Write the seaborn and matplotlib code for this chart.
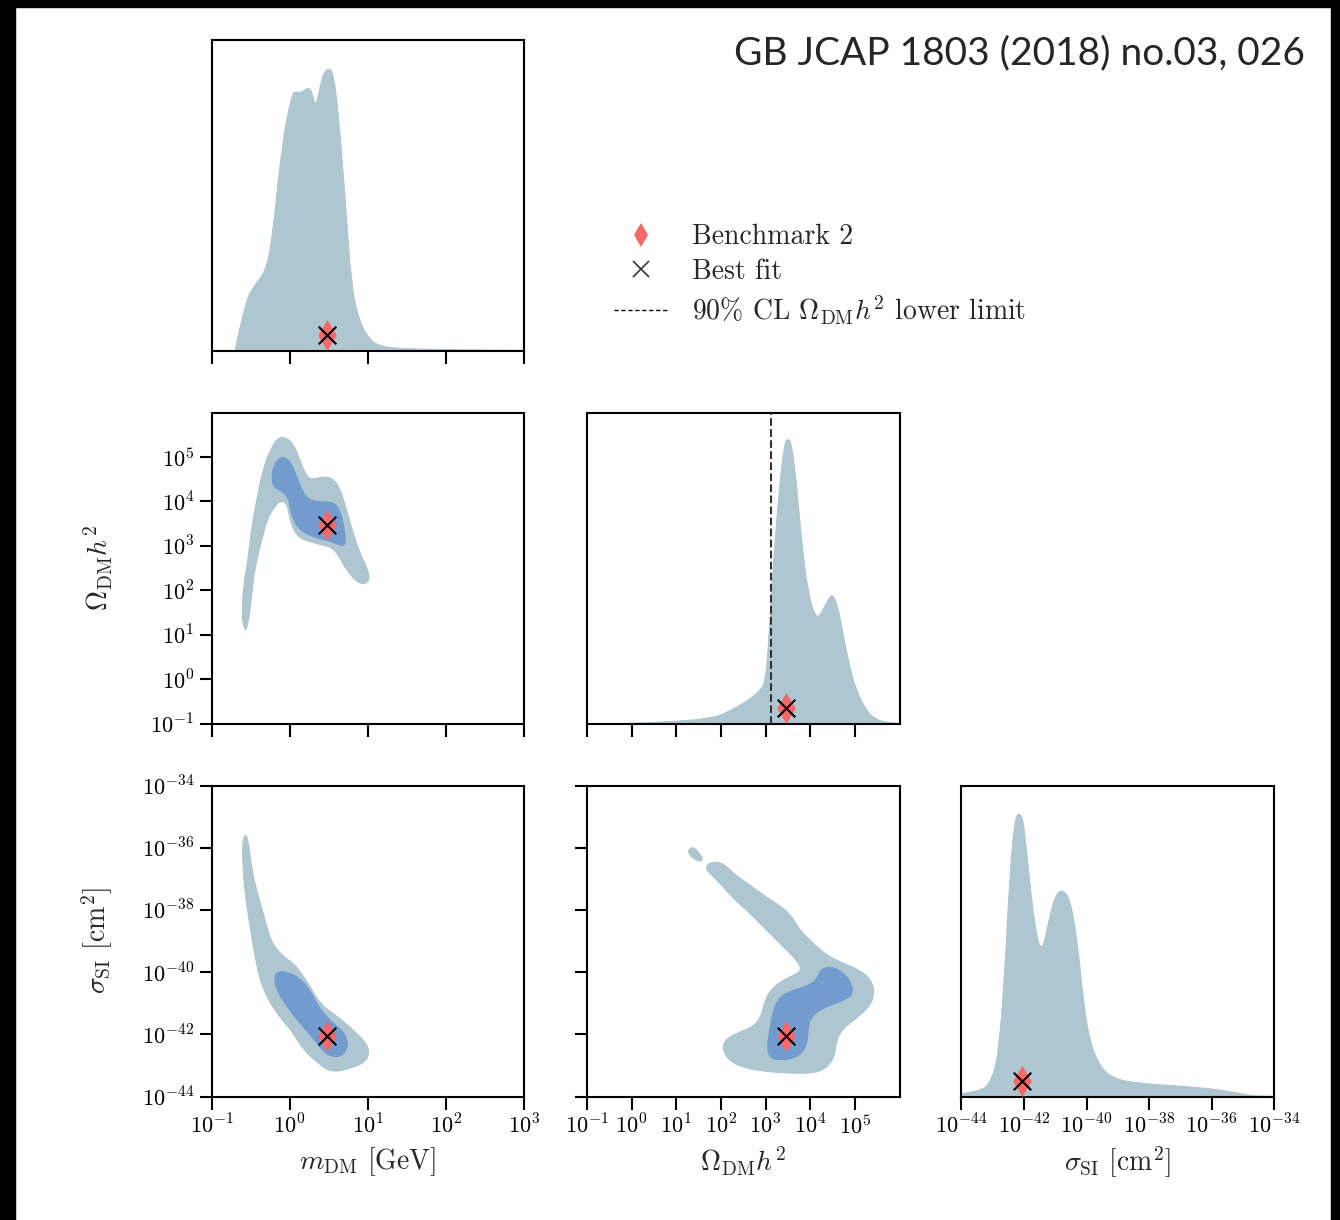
import numpy as np
import matplotlib
matplotlib.use("Agg")
import matplotlib.pyplot as plt
import seaborn as sns
from matplotlib.lines import Line2D
from matplotlib.patches import Rectangle, PathPatch
from matplotlib.path import Path

# values are log10 of the physical quantities
m_ticks = [-1, 0, 1, 2, 3]
omega_ticks = [-1, 0, 1, 2, 3, 4, 5]
sigma_ticks = [-44, -42, -40, -38, -36, -34]
m_lim = (-1, 3)
omega_lim = (-1, 6)
sigma_lim = (-44, -34)

# best fit / benchmark 2 point
best_m = 0.48
best_omega = 3.46
best_sigma = -42.05
omega_lower_limit = 3.12

# 1D marginal posteriors (relative height)
m_x = [-0.70, -0.571, -0.465, -0.293, -0.209, -0.101, 0.027, 0.091, 0.133, 0.239,
       0.283, 0.338, 0.411, 0.496, 0.56, 0.624, 0.709, 0.795, 0.901, 1.029,
       1.157, 1.328, 1.755, 2.604, 3.0]
m_dens = [0.0, 0.153, 0.207, 0.260, 0.389, 0.657, 0.828, 0.834, 0.828, 0.848,
          0.834, 0.777, 0.882, 0.912, 0.893, 0.764, 0.496, 0.196, 0.089, 0.035,
          0.016, 0.009, 0.005, 0.003, 0.002]

omega_x = [-0.04, 1.081, 1.826, 2.049, 2.348, 2.647, 2.870, 2.982, 3.057, 3.168,
           3.318, 3.430, 3.504, 3.579, 3.691, 3.802, 3.951, 4.138, 4.287, 4.436,
           4.511, 4.623, 4.734, 4.884, 5.033, 5.257, 5.481, 5.779, 6.0]
omega_dens = [0.0, 0.006, 0.019, 0.030, 0.052, 0.078, 0.105, 0.127, 0.225, 0.504,
              0.774, 0.903, 0.916, 0.903, 0.774, 0.591, 0.418, 0.332, 0.364, 0.408,
              0.413, 0.375, 0.289, 0.181, 0.106, 0.041, 0.011, 0.002, 0.0]

sigma_x = [-44.0, -43.407, -43.087, -42.82, -42.606, -42.446, -42.285, -42.147, -42.019,
           -41.859, -41.644, -41.43, -41.218, -41.003, -40.756, -40.522, -40.308,
           -40.096, -39.881, -39.561, -39.135, -38.385, -37.317, -36.571, -35.715,
           -35.074, -34.647, -34.0]
sigma_dens = [0.009, 0.017, 0.041, 0.127, 0.406, 0.728, 0.895, 0.913, 0.889,
              0.728, 0.535, 0.460, 0.557, 0.648, 0.666, 0.632, 0.513,
              0.299, 0.170, 0.095, 0.057, 0.043, 0.035, 0.030, 0.021,
              0.009, 0.002, 0.0]

# 2D credible regions (95% outer, 68% inner)
mo_outer_m = [-0.571, -0.614, -0.592, -0.528, -0.486, -0.422, -0.336, -0.230, -0.144, -0.059,
              0.048, 0.133, 0.219, 0.304, 0.432, 0.560, 0.645, 0.731, 0.816, 0.901,
              0.987, 1.029, 0.965, 0.859, 0.731, 0.624, 0.539, 0.347, 0.133, 0.026,
              -0.016, -0.038, -0.102, -0.187, -0.294, -0.358, -0.443, -0.486, -0.516, -0.550]
mo_outer_o = [1.095, 1.395, 2.071, 2.746, 3.422, 4.023, 4.773, 5.224, 5.434, 5.449,
              5.299, 4.923, 4.548, 4.488, 4.563, 4.511, 4.285, 3.797, 3.272, 2.821,
              2.521, 2.258, 2.131, 2.183, 2.446, 2.784, 2.971, 3.047, 3.159, 3.422,
              3.797, 3.947, 4.023, 3.910, 3.572, 3.122, 2.521, 1.920, 1.395, 1.132]
mo_inner_m = [-0.208, -0.144, -0.059, 0.026, 0.090, 0.176, 0.261, 0.411, 0.560, 0.645,
              0.688, 0.718, 0.697, 0.603, 0.475, 0.304, 0.133, 0.048, 0.005, -0.016,
              -0.123, -0.208, -0.230]
mo_inner_o = [4.773, 4.961, 4.998, 4.848, 4.548, 4.173, 4.023, 3.985, 3.985, 3.797,
              3.497, 3.122, 2.986, 3.047, 3.122, 3.197, 3.347, 3.572, 3.872, 4.098,
              4.263, 4.323, 4.548]

ms_outer_m = [-0.571, -0.528, -0.486, -0.400, -0.315, -0.230, -0.080, 0.048, 0.154, 0.261,
              0.389, 0.517, 0.645, 0.859, 0.987, 1.021, 0.944, 0.773, 0.603, 0.475,
              0.347, 0.176, 0.048, -0.059, -0.208, -0.336, -0.422, -0.507, -0.571, -0.601,
              -0.605]
ms_outer_s = [-35.538, -35.752, -36.717, -37.574, -38.325, -39.075, -39.504, -39.718, -40.040,
              -40.468, -41.004, -41.272, -41.487, -41.969, -42.290, -42.666, -42.934, -43.094,
              -43.202, -43.148, -42.880, -42.505, -41.969, -41.647, -41.165, -40.576, -39.825,
              -38.539, -37.467, -36.503, -35.860]
ms_inner_m = [-0.166, -0.038, 0.133, 0.261, 0.389, 0.560, 0.709, 0.752, 0.688, 0.560,
              0.432, 0.304, 0.133, -0.016, -0.144, -0.200]
ms_inner_s = [-39.986, -39.986, -40.200, -40.576, -41.219, -41.647, -41.969, -42.344, -42.666,
              -42.741, -42.558, -42.130, -41.647, -41.165, -40.683, -40.254]

os_island_o = [1.267, 1.379, 1.491, 1.603, 1.528, 1.379, 1.289]
os_island_s = [-36.074, -35.967, -36.128, -36.374, -36.449, -36.342, -36.203]
os_outer_o = [1.677, 1.826, 2.050, 2.199, 2.423, 2.647, 2.945, 3.243, 3.541, 3.765,
              4.063, 4.362, 4.735, 5.107, 5.368, 5.443, 5.331, 5.033, 4.735, 4.585,
              4.548, 4.362, 4.063, 3.616, 3.019, 2.572, 2.199, 2.035, 2.087, 2.348,
              2.721, 2.908, 2.982, 3.169, 3.467, 3.728, 3.802, 3.691, 3.467, 3.169,
              2.870, 2.572, 2.274, 2.050, 1.826, 1.677]
os_outer_s = [-36.556, -36.449, -36.503, -36.717, -36.985, -37.199, -37.521, -37.789, -38.110,
              -38.646, -39.075, -39.450, -39.718, -39.932, -40.254, -40.683, -41.111, -41.487,
              -41.808, -42.183, -42.719, -43.094, -43.255, -43.255, -43.202, -43.094, -42.880,
              -42.505, -42.183, -41.969, -41.755, -41.433, -40.897, -40.468, -40.200, -40.040,
              -39.879, -39.611, -39.289, -38.861, -38.432, -38.003, -37.628, -37.253, -36.931,
              -36.717]
os_inner_o = [4.287, 4.511, 4.809, 4.958, 4.921, 4.660, 4.362, 4.101, 3.952, 3.952,
              3.877, 3.653, 3.355, 3.094, 3.034, 3.094, 3.169, 3.318, 3.616, 3.914,
              4.138, 4.213]
os_inner_s = [-39.879, -39.825, -40.093, -40.468, -40.790, -40.951, -41.111, -41.326, -41.647,
              -42.076, -42.505, -42.773, -42.826, -42.773, -42.398, -41.862, -41.219, -40.790,
              -40.576, -40.468, -40.254, -39.986]

light = "#aec6d0"
dark = "#729cce"
red = "#f76868"

sns.set_style("ticks")
plt.rcParams['font.family'] = 'serif'
plt.rcParams['font.serif'] = ['cmr10']
plt.rcParams['mathtext.fontset'] = 'cm'
plt.rcParams['axes.formatter.use_mathtext'] = True
plt.rcParams['axes.unicode_minus'] = False
plt.rcParams['axes.edgecolor'] = 'black'
plt.rcParams['axes.linewidth'] = 1.5
plt.rcParams['xtick.major.size'] = 9
plt.rcParams['ytick.major.size'] = 9
plt.rcParams['xtick.major.width'] = 1.5
plt.rcParams['ytick.major.width'] = 1.5
plt.rcParams['xtick.color'] = 'black'
plt.rcParams['ytick.color'] = 'black'
plt.rcParams['xtick.labelsize'] = 16
plt.rcParams['ytick.labelsize'] = 16

W, H = 1340, 1220
fig = plt.figure(figsize=(W / 100, H / 100), dpi=100)

# black frame on left, top and right
fig.add_artist(Rectangle((0, 0), 15 / W, 1, transform=fig.transFigure, color='black', zorder=0))
fig.add_artist(Rectangle((0, 1 - 7 / H), 1, 7 / H, transform=fig.transFigure, color='black', zorder=0))
fig.add_artist(Rectangle((1 - 9 / W, 0), 9 / W, 1, transform=fig.transFigure, color='black', zorder=0))

col_left = [211.5, 587, 961.5]
row_bottom = [351, 723.5, 1096.5]
aw, ah = 312.5, 311
LABEL_FS = 20


def make_ax(r, c):
    return fig.add_axes([col_left[c] / W, (H - row_bottom[r]) / H, aw / W, ah / H])


def log_labels(ticks):
    return [r"$10^{%d}$" % t for t in ticks]


def mark(ax, x, y):
    sns.scatterplot(x=[x], y=[y], ax=ax, marker='d', color=red, s=250, linewidth=0, zorder=5)
    ax.scatter([x], [y], marker='x', color='black', s=160, linewidths=1.5, zorder=6)


def smooth_closed(x, y):
    # quadratic bezier through the midpoints of the outline
    p = np.column_stack([x, y])
    mids = (p + np.roll(p, -1, axis=0)) / 2
    verts = [mids[-1]]
    codes = [Path.MOVETO]
    for i in range(len(p)):
        verts += [p[i], mids[i]]
        codes += [Path.CURVE3, Path.CURVE3]
    return Path(verts, codes)


def smooth_density(x, y):
    p = np.column_stack([x, y])
    verts = [(x[0], 0), p[0]]
    codes = [Path.MOVETO, Path.LINETO]
    for i in range(1, len(p) - 1):
        verts += [p[i], (p[i] + p[i + 1]) / 2]
        codes += [Path.CURVE3, Path.CURVE3]
    verts += [p[-1], (x[-1], 0), (x[0], 0)]
    codes += [Path.LINETO, Path.LINETO, Path.CLOSEPOLY]
    return Path(verts, codes)


def density(ax, x, y):
    ax.add_patch(PathPatch(smooth_density(x, y), fc=light, ec=light, lw=0.8, zorder=2))
    ax.set_ylim(0, 1)
    ax.set_yticks([])
    ax.set_ylabel("")


def region(ax, x, y, color):
    ax.add_patch(PathPatch(smooth_closed(x, y), fc=color, ec=color, lw=0.8, zorder=2))


# row 1: m_DM marginal
ax = make_ax(0, 0)
density(ax, m_x, m_dens)
mark(ax, best_m, 0.05)
ax.set_xlim(*m_lim)
ax.set_xticks(m_ticks)
ax.set_xticklabels([])
ax.set_ylabel(r"$m_{\rm DM}$ [GeV]", fontsize=LABEL_FS)
ax.yaxis.set_label_coords(-0.31, 0.5)

# row 2
ax = make_ax(1, 0)
region(ax, mo_outer_m, mo_outer_o, light)
region(ax, mo_inner_m, mo_inner_o, dark)
mark(ax, best_m, best_omega)
ax.set_xlim(*m_lim)
ax.set_ylim(*omega_lim)
ax.set_xticks(m_ticks)
ax.set_xticklabels([])
ax.set_yticks(omega_ticks)
ax.set_yticklabels(log_labels(omega_ticks))
ax.set_ylabel(r"$\Omega_{\rm DM}h^2$", fontsize=LABEL_FS)
ax.yaxis.set_label_coords(-0.31, 0.5)

ax = make_ax(1, 1)
density(ax, omega_x, omega_dens)
ax.axvline(omega_lower_limit, color='#333333', ls='--', lw=1.5, zorder=4)
mark(ax, best_omega, 0.05)
ax.set_xlim(*omega_lim)
ax.set_xticks(omega_ticks)
ax.set_xticklabels([])

# row 3
ax = make_ax(2, 0)
region(ax, ms_outer_m, ms_outer_s, light)
region(ax, ms_inner_m, ms_inner_s, dark)
mark(ax, best_m, best_sigma)
ax.set_xlim(*m_lim)
ax.set_ylim(*sigma_lim)
ax.set_xticks(m_ticks)
ax.set_xticklabels(log_labels(m_ticks))
ax.set_yticks(sigma_ticks)
ax.set_yticklabels(log_labels(sigma_ticks))
ax.set_xlabel(r"$m_{\rm DM}$ [GeV]", fontsize=LABEL_FS)
ax.set_ylabel(r"$\sigma_{\rm SI}$ [cm$^2$]", fontsize=LABEL_FS)
ax.yaxis.set_label_coords(-0.31, 0.5)
ax.xaxis.set_label_coords(0.5, -0.155)

ax = make_ax(2, 1)
region(ax, os_island_o, os_island_s, light)
region(ax, os_outer_o, os_outer_s, light)
region(ax, os_inner_o, os_inner_s, dark)
mark(ax, best_omega, best_sigma)
ax.set_xlim(*omega_lim)
ax.set_ylim(*sigma_lim)
ax.set_xticks(omega_ticks)
ax.set_xticklabels(log_labels(omega_ticks))
ax.set_yticks(sigma_ticks)
ax.set_yticklabels([])
ax.set_xlabel(r"$\Omega_{\rm DM}h^2$", fontsize=LABEL_FS)
ax.xaxis.set_label_coords(0.5, -0.155)

ax = make_ax(2, 2)
density(ax, sigma_x, sigma_dens)
mark(ax, best_sigma, 0.05)
ax.set_xlim(*sigma_lim)
ax.set_xticks(sigma_ticks)
ax.set_xticklabels(log_labels(sigma_ticks))
ax.set_xlabel(r"$\sigma_{\rm SI}$ [cm$^2$]", fontsize=LABEL_FS)
ax.xaxis.set_label_coords(0.5, -0.155)

handles = [
    Line2D([], [], marker='d', color=red, ls='none', markersize=12, markeredgewidth=0),
    Line2D([], [], marker='x', color='#333333', ls='none', markersize=11, markeredgewidth=1.2),
    Line2D([], [], color='black', ls='--', lw=1, dashes=(3, 2)),
]
labels = ["Benchmark 2", "Best fit", r"90% CL $\Omega_{\rm DM}h^2$ lower limit"]
fig.legend(handles, labels, loc='upper left', bbox_to_anchor=(603 / W, 1 - 213 / H),
           frameon=False, fontsize=20, handlelength=1.9, handletextpad=0.9,
           labelspacing=0.3, borderaxespad=0)

fig.text(1305 / W, 1 - 53 / H, "GB JCAP 1803 (2018) no.03, 026", family='Lato',
         fontsize=28, ha='right', va='center')

fig.savefig("out.png", dpi=100)
